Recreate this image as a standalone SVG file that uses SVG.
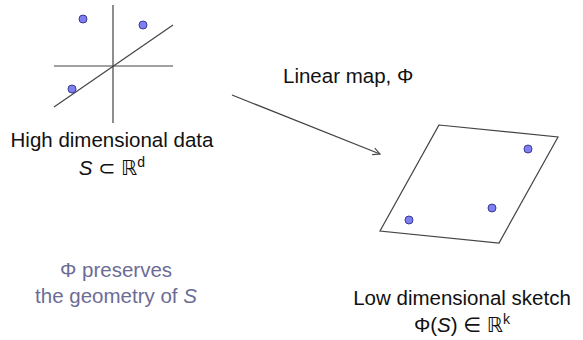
<svg xmlns="http://www.w3.org/2000/svg" width="583" height="340" viewBox="0 0 583 340">
<defs>
<style>
.ln{stroke:#444;stroke-width:1.2;fill:none}
.dot{fill:#7f7ff0;stroke:#3a3a9a;stroke-width:1}
.t{font-family:"Liberation Sans","DejaVu Sans",sans-serif;font-size:20.5px;fill:#111}
.p{fill:#6c6c96}
.it{font-style:italic}
.sup{font-size:14px}
</style>
<marker id="ah" markerWidth="10" markerHeight="10" refX="8" refY="5" orient="auto" markerUnits="userSpaceOnUse">
<path d="M1,1.5 L8,5 L1,8.5" fill="none" stroke="#444" stroke-width="1.1"/>
</marker>
</defs>
<rect width="583" height="340" fill="#fff"/>
<g id="high-dim">
<line class="ln" x1="113" y1="5" x2="113" y2="123"/>
<line class="ln" x1="54" y1="66" x2="173" y2="66"/>
<line class="ln" x1="54" y1="107" x2="173" y2="25"/>
<circle class="dot" cx="83" cy="19" r="4"/>
<circle class="dot" cx="143" cy="25" r="4"/>
<circle class="dot" cx="72" cy="89" r="4"/>
<text class="t" x="112" y="147" text-anchor="middle">High dimensional data</text>
<text class="t" x="112" y="175" text-anchor="middle"><tspan class="it">S</tspan> ⊂ ℝ<tspan class="sup" dy="-8">d</tspan></text>
</g>
<g id="low-dim">
<polygon class="ln" points="439,125 558,137 499,243 380,231"/>
<circle class="dot" cx="528" cy="149" r="4"/>
<circle class="dot" cx="492" cy="208" r="4"/>
<circle class="dot" cx="409" cy="220" r="4"/>
<text class="t" x="462" y="305" text-anchor="middle">Low dimensional sketch</text>
<text class="t" x="462" y="332" text-anchor="middle">Φ(<tspan class="it">S</tspan>) ∈ ℝ<tspan class="sup" dy="-8">k</tspan></text>
</g>
<g id="note">
<text class="t p" x="116" y="277" text-anchor="middle">Φ preserves</text>
<text class="t p" x="116" y="303" text-anchor="middle">the geometry of <tspan class="it">S</tspan></text>
</g>
<g id="connectors">
<line class="ln" x1="232" y1="95" x2="380" y2="154" marker-end="url(#ah)"/>
<text class="t" x="283" y="83">Linear map, Φ</text>
</g>
</svg>
